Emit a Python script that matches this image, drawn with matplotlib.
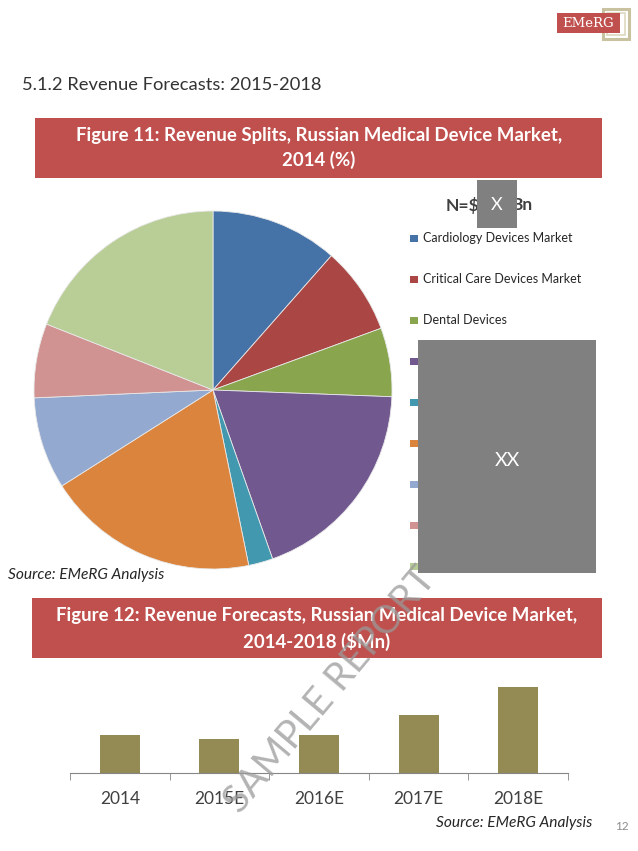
import matplotlib.pyplot as plt
from matplotlib.patches import Rectangle

plt.rcParams['font.family'] = ['Lato', 'DejaVu Sans']

# pie data (share of 2014 revenue, %)
segments = ['Cardiology Devices Market', 'Critical Care Devices Market', 'Dental Devices',
            'Diagnostic Imaging Market', 'ENT Devices Market', 'Orthopedic Devices Market',
            'Ophthalmic Devices Market', 'Respiratory Devices Market', 'Other Medical Devices Market']
shares = [11.5, 7.9, 6.2, 19.0, 2.2, 19.2, 8.3, 6.7, 19.0]
pie_colors = ['#4572a7', '#aa4643', '#89a54e', '#71588f', '#4198af',
              '#db843d', '#93a9cf', '#d19392', '#b9cd96']

# bar data (revenue, $Mn)
years = ['2014', '2015E', '2016E', '2017E', '2018E']
revenue = [38, 34, 38, 58, 86]

W, H = 638, 851
fig = plt.figure(figsize=(W / 100, H / 100), dpi=100)
fig.patch.set_facecolor('white')

# background layer in pixel coords
bg = fig.add_axes([0, 0, 1, 1], zorder=0)
bg.set_xlim(0, W)
bg.set_ylim(H, 0)
bg.axis('off')

# logo
bg.add_patch(Rectangle((603, 9), 26, 30, fill=False, edgecolor='#c9c2a0', lw=2.2))
bg.add_patch(Rectangle((607, 13), 18, 22, fill=False, edgecolor='#ddd8c0', lw=1.2))
bg.add_patch(Rectangle((557, 13), 63, 20, facecolor='#c0504d', edgecolor='none'))
bg.text(588.5, 23.5, 'EMeRG', family='DejaVu Serif', color='white', fontsize=9.5,
        ha='center', va='center')

bg.text(22, 85, '5.1.2 Revenue Forecasts: 2015-2018', fontsize=13.2, color='#333333',
        va='center', ha='left')

# banner 1
bg.add_patch(Rectangle((35, 118), 567, 60, facecolor='#c0504d', edgecolor='none'))
bg.text(319, 136, 'Figure 11: Revenue Splits, Russian Medical Device Market,',
        fontsize=13.4, fontweight='bold', color='white', ha='center', va='center')
bg.text(319, 160, '2014 (%)', fontsize=13.4, fontweight='bold', color='white',
        ha='center', va='center')

bg.text(479, 205, 'N=$', fontsize=12.5, fontweight='bold', color='#404040',
        ha='right', va='center')
bg.text(512, 205, 'Bn', fontsize=12.5, fontweight='bold', color='#404040',
        ha='left', va='center')

# legend
for i, (lab, col) in enumerate(zip(segments, pie_colors)):
    yy = 238 + 41 * i
    bg.add_patch(Rectangle((410, yy - 3.5), 7.5, 7.5, facecolor=col, edgecolor='none'))
    bg.text(423, yy, lab, fontsize=9, color='#262626', ha='left', va='center')

bg.text(8, 575, 'Source: EMeRG Analysis', fontsize=11.2, style='italic', color='#262626',
        ha='left', va='center')

# banner 2
bg.add_patch(Rectangle((32, 598), 570, 60, facecolor='#c0504d', edgecolor='none'))
bg.text(317, 616, 'Figure 12: Revenue Forecasts, Russian Medical Device Market,',
        fontsize=13.4, fontweight='bold', color='white', ha='center', va='center')
bg.text(317, 641, '2014-2018 ($Mn)', fontsize=13.4, fontweight='bold', color='white',
        ha='center', va='center')

bg.text(592, 823, 'Source: EMeRG Analysis', fontsize=11.2, style='italic', color='#262626',
        ha='right', va='center')
bg.text(622, 827, '12', fontsize=8.5, color='#8c8c8c', ha='center', va='center')

# pie
ax_pie = fig.add_axes([34 / W, 1 - 569 / H, 358 / W, 358 / H], zorder=1)
ax_pie.pie(shares, colors=pie_colors, startangle=90, counterclock=False,
           wedgeprops=dict(edgecolor='#e8e8e8', linewidth=0.6))
ax_pie.set_xlim(-1, 1)
ax_pie.set_ylim(-1, 1)

# bars
ax_bar = fig.add_axes([70 / W, 1 - 773 / H, 498 / W, 110 / H], zorder=1)
x = range(len(years))
ax_bar.bar(x, revenue, width=0.4, color='#948a54')
ax_bar.set_xlim(-0.5, len(years) - 0.5)
ax_bar.set_ylim(0, 110)
for s in ['top', 'right', 'left']:
    ax_bar.spines[s].set_visible(False)
ax_bar.spines['bottom'].set_color('#868686')
ax_bar.set_yticks([])
ax_bar.set_xticks(list(x))
ax_bar.set_xticklabels(years, fontsize=12.5, color='#404040')
ax_bar.tick_params(axis='x', which='major', length=0, pad=13)
ax_bar.set_xticks([i - 0.5 for i in range(len(years) + 1)], minor=True)
ax_bar.tick_params(axis='x', which='minor', length=5, color='#868686')
ax_bar.patch.set_alpha(0)

# overlay: masking boxes and watermark
top = fig.add_axes([0, 0, 1, 1], zorder=5)
top.set_xlim(0, W)
top.set_ylim(H, 0)
top.axis('off')
top.patch.set_alpha(0)
top.add_patch(Rectangle((477, 180), 40, 48, facecolor='#808080', edgecolor='none'))
top.text(497, 205, 'X', fontsize=13, color='white', ha='center', va='center')
top.add_patch(Rectangle((418, 340), 178, 233, facecolor='#808080', edgecolor='none'))
top.text(507, 460, 'XX', fontsize=14, color='white', ha='center', va='center')
top.text(330, 690, 'SAMPLE REPORT', fontsize=28, color='#9a9a9a', alpha=0.75,
         rotation=50, ha='center', va='center')

fig.savefig('out.png', dpi=100, facecolor='white')
